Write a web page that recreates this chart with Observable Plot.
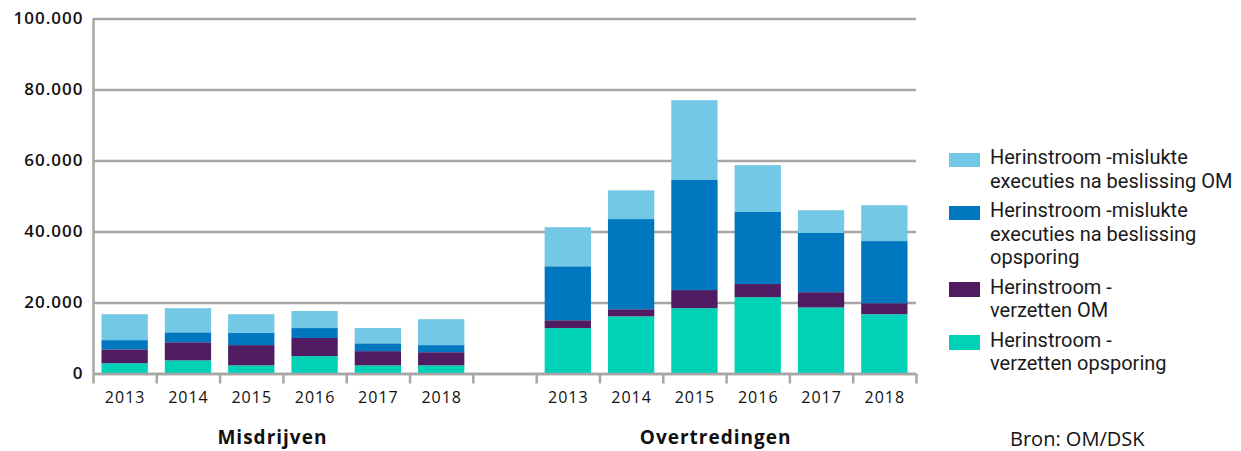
<!DOCTYPE html>
<html>
<head>
<meta charset="utf-8">
<script src="https://cdn.jsdelivr.net/npm/d3@7"></script>
<script src="https://cdn.jsdelivr.net/npm/@observablehq/plot@0.6"></script>
<style>
  body { margin: 0; background: #fff; }
  #wrap { position: relative; width: 1241px; height: 451px; overflow: hidden; font-family: "Open Sans", sans-serif; color: #111; }
  #legend { position: absolute; left: 949px; top: 146px; font-family: Roboto, sans-serif; font-size: 20px; line-height: 23.5px; white-space: nowrap; color: #1a1a1a; }
  .item { display: flex; align-items: flex-start; margin-bottom: 6px; }
  .sw { width: 31px; height: 14.5px; margin-right: 10px; margin-top: 6.5px; flex: none; }
  #source { position: absolute; left: 1010px; top: 429px; font-size: 20px; line-height: 20px; white-space: nowrap; }
</style>
</head>
<body>
<div id="wrap"><div id="legend"></div><div id="source">Bron: OM/DSK</div></div>
<script>
// Data (aantallen)
const years = ["2013", "2014", "2015", "2016", "2017", "2018"];
const groups = ["Misdrijven", "Overtredingen"];
const seriesNames = [
  "Herinstroom - verzetten opsporing",
  "Herinstroom - verzetten OM",
  "Herinstroom -mislukte executies na beslissing opsporing",
  "Herinstroom -mislukte executies na beslissing OM"
];
const legendLines = [
  ["Herinstroom -", "verzetten opsporing"],
  ["Herinstroom -", "verzetten OM"],
  ["Herinstroom -mislukte", "executies na beslissing", "opsporing"],
  ["Herinstroom -mislukte", "executies na beslissing OM"]
];
const colors = ["#00d2b8", "#501b60", "#0077bf", "#73c8e6"];

// Misdrijven
const misVerzettenOpsporing = [2900, 3700, 2300, 4900, 2300, 2300];
const misVerzettenOM        = [3900, 5100, 5700, 5100, 4000, 3700];
const misMisluktOpsporing   = [2600, 2800, 3400, 2800, 2200, 2000];
const misMisluktOM          = [7300, 6800, 5300, 4800, 4300, 7300];
// Overtredingen
const ovVerzettenOpsporing  = [12800, 16100, 18400, 21500, 18600, 16700];
const ovVerzettenOM         = [2200, 2000, 5100, 3700, 4300, 3100];
const ovMisluktOpsporing    = [15200, 25400, 31000, 20300, 16700, 17500];
const ovMisluktOM           = [11000, 8100, 22500, 13200, 6400, 10100];

const yTicks = [0, 20000, 40000, 60000, 80000, 100000];

// Build stacked table
const groupSeries = [
  [misVerzettenOpsporing, misVerzettenOM, misMisluktOpsporing, misMisluktOM],
  [ovVerzettenOpsporing, ovVerzettenOM, ovMisluktOpsporing, ovMisluktOM]
];
const rows = [];
const labels = [];
groupSeries.forEach((seriesArr, g) => {
  years.forEach((yr, i) => {
    const idx = g * (years.length + 1) + i;
    labels.push({idx, year: yr});
    let acc = 0;
    seriesArr.forEach((vals, s) => {
      rows.push({idx, year: yr, group: groups[g], series: seriesNames[s], y1: acc, y2: acc + vals[i]});
      acc += vals[i];
    });
  });
});
const nBands = years.length * 2 + 1;
const boundaries = d3.range(0, nBands + 1);
const groupLabels = groups.map((name, g) => ({name, cx: g * (years.length + 1) + years.length / 2}));

const gray = "#a6a6a6";
const fmt = d => d === 0 ? "0" : d3.format(",")(d).replace(/,/g, ".");

const chart = Plot.plot({
  width: 1241,
  height: 451,
  marginLeft: 93,
  marginRight: 325,
  marginTop: 18.5,
  marginBottom: 77.5,
  x: {type: "linear", domain: [0, nBands], axis: null},
  y: {domain: [0, 100000], axis: null},
  color: {domain: seriesNames, range: colors},
  style: {fontFamily: "Open Sans, sans-serif", fontSize: "16px", color: "#111", background: "transparent", overflow: "visible", letterSpacing: "1px"},
  marks: [
    Plot.gridY(yTicks, {stroke: gray, strokeOpacity: 1, strokeWidth: 2.5}),
    Plot.rect(rows, {x1: "idx", x2: d => d.idx + 1, y1: "y1", y2: "y2", fill: "series", insetLeft: 8.5, insetRight: 8.5}),
    Plot.ruleY([0], {stroke: gray, strokeWidth: 2.5}),
    Plot.ruleX([0], {stroke: gray, strokeWidth: 2.5}),
    Plot.axisX(boundaries, {tickSize: 10, tickFormat: () => "", stroke: gray, strokeWidth: 2.5}),
    Plot.text(labels, {x: d => d.idx + 0.5, text: "year", frameAnchor: "bottom", dy: 28.5, fontSize: 16}),
    Plot.text(groupLabels, {x: "cx", text: "name", frameAnchor: "bottom", dy: 70, dx: -11, fontSize: 19, fontWeight: 700}),
    Plot.axisY(yTicks, {tickSize: 0, tickPadding: 10, tickFormat: fmt, fontSize: 17, fontWeight: 600})
  ]
});
const wrap = document.getElementById("wrap");
chart.style.position = "absolute";
chart.style.left = "0";
chart.style.top = "0";
wrap.insertBefore(chart, wrap.firstChild);

// Legend (top to bottom: reverse stack order)
const legend = document.getElementById("legend");
for (let s = seriesNames.length - 1; s >= 0; s--) {
  const item = document.createElement("div");
  item.className = "item";
  const sw = document.createElement("div");
  sw.className = "sw";
  sw.style.background = colors[s];
  const txt = document.createElement("div");
  txt.innerHTML = legendLines[s].join("<br>");
  item.appendChild(sw);
  item.appendChild(txt);
  legend.appendChild(item);
}
</script>
</body>
</html>
